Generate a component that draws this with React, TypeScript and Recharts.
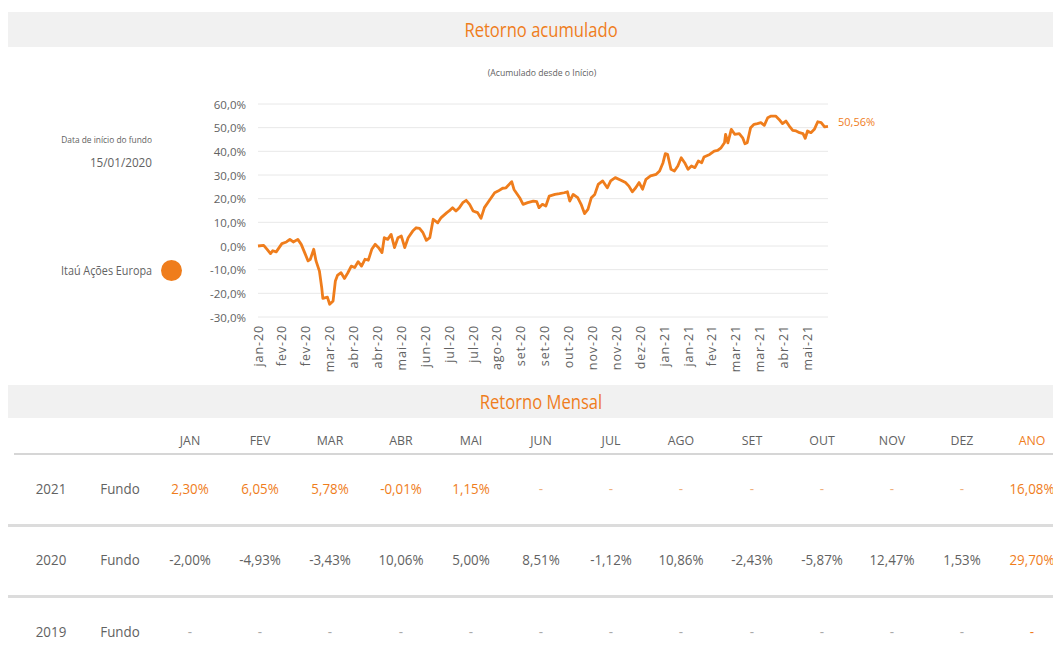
import React from 'react';
import { LineChart, Line, XAxis, YAxis, CartesianGrid } from 'recharts';

// ---- Data ----
// days since fund start (15/01/2020)
const dayOffsets = [
  0, 5, 8, 11, 13, 16, 21, 25, 28, 31, 35, 38, 41, 44, 46, 49, 51, 54, 56, 57,
  61, 63, 66, 68, 70, 73, 76, 79, 82, 85, 88, 91, 94, 97, 100, 103, 106, 109, 111, 114,
  117, 120, 123, 126, 129, 132, 136, 139, 142, 145, 148, 151, 154, 158, 161, 166, 168, 171, 174, 177,
  180, 183, 186, 189, 193, 196, 199, 203, 208, 211, 215, 218, 223, 225, 230, 233, 237, 242, 245, 247,
  250, 253, 256, 261, 265, 269, 272, 274, 277, 281, 284, 287, 290, 293, 296, 299, 303, 307, 310, 314,
  319, 323, 326, 329, 332, 335, 338, 341, 345, 350, 353, 356, 358, 360, 363, 366, 369, 372, 375, 378,
  381, 384, 387, 390, 392, 397, 401, 404, 407, 410, 411, 413, 416, 419, 423, 426, 428, 430, 433, 436,
  439, 442, 445, 448, 451, 455, 458, 461, 464, 467, 470, 473, 476, 479, 481, 483, 486, 489, 492, 495,
  498, 501,
];
// accumulated return (%)
const accumulatedReturn = [
  0.0, 0.3, -1.4, -3.2, -2.0, -2.5, 1.0, 1.7, 2.8, 1.7, 2.8, 0.7, -2.8, -6.3, -5.6, -1.4, -6.3, -10.6, -17.6, -22.1,
  -21.6, -24.6, -23.2, -14.8, -12.3, -11.3, -13.7, -11.3, -8.5, -9.1, -6.6, -8.5, -5.6, -6.0, -1.4, 0.7, -0.7, -2.8, 3.5, 2.8,
  4.9, -0.7, 3.5, 4.2, -0.7, 3.5, 6.3, 7.7, 7.4, 5.6, 2.4, 3.5, 11.3, 9.8, 12.0, 14.1, 14.8, 16.2, 14.8, 16.2,
  18.3, 19.3, 17.6, 14.8, 14.1, 11.7, 16.2, 19.0, 22.5, 23.2, 24.4, 24.6, 27.2, 23.9, 20.4, 17.6, 18.3, 19.0, 18.7, 16.2,
  17.6, 16.9, 21.1, 21.8, 22.1, 22.5, 22.9, 19.0, 21.8, 20.4, 17.6, 13.7, 15.5, 20.4, 21.8, 26.0, 27.5, 24.6, 27.5, 28.9,
  27.8, 26.8, 25.3, 22.9, 24.6, 26.8, 24.0, 28.2, 29.6, 30.3, 31.7, 35.2, 39.0, 38.7, 32.4, 31.7, 33.8, 37.3, 35.2, 32.4,
  33.8, 33.1, 35.9, 35.2, 37.6, 38.7, 40.1, 40.4, 41.5, 43.6, 47.2, 43.6, 49.3, 47.2, 47.5, 45.7, 43.2, 43.6, 50.0, 51.4,
  51.7, 52.1, 51.0, 54.2, 54.9, 54.9, 53.5, 51.7, 52.8, 50.7, 48.9, 48.6, 47.9, 47.5, 45.5, 48.6, 47.9, 49.3, 52.5, 52.1,
  50.3, 50.56,
];
const tickDays = [0, 21, 42, 63, 84, 105, 126, 147, 168, 189, 210, 231, 252, 273, 294, 315, 336, 357, 378, 399, 420, 441, 462, 483];
const tickLabels = [
  'jan-20', 'fev-20', 'fev-20', 'mar-20', 'abr-20', 'abr-20', 'mai-20', 'jun-20', 'jul-20', 'jul-20', 'ago-20', 'set-20',
  'set-20', 'out-20', 'nov-20', 'nov-20', 'dez-20', 'jan-21', 'jan-21', 'fev-21', 'mar-21', 'mar-21', 'abr-21', 'mai-21',
];
const yTicks = [-30, -20, -10, 0, 10, 20, 30, 40, 50, 60];
const lastLabel = '50,56%';

const monthHeaders = ['JAN', 'FEV', 'MAR', 'ABR', 'MAI', 'JUN', 'JUL', 'AGO', 'SET', 'OUT', 'NOV', 'DEZ', 'ANO'];
const years = ['2021', '2020', '2019'];
const rowLabel = 'Fundo';
const returns2021 = ['2,30%', '6,05%', '5,78%', '-0,01%', '1,15%', '-', '-', '-', '-', '-', '-', '-', '16,08%'];
const returns2020 = ['-2,00%', '-4,93%', '-3,43%', '10,06%', '5,00%', '8,51%', '-1,12%', '10,86%', '-2,43%', '-5,87%', '12,47%', '1,53%', '29,70%'];
const returns2019 = ['-', '-', '-', '-', '-', '-', '-', '-', '-', '-', '-', '-', '-'];

const chartData = dayOffsets.map((d, i) => ({ day: d, ret: accumulatedReturn[i] }));

const ORANGE = '#ef7d1c';
const GRAY = '#626262';
const BAND = '#f1f1f1';
const FONT = "'Open Sans', sans-serif";

const fmtPct = (v: number) => `${v.toFixed(1).replace('.', ',')}%`;

const XTick = (props: any) => {
  const { x, y, payload } = props;
  const i = tickDays.indexOf(payload.value);
  return (
    <text
      x={x}
      y={y}
      transform={`rotate(-90, ${x}, ${y})`}
      textAnchor="end"
      dominantBaseline="central"
      fill={GRAY}
      fontSize={12.5}
      fontFamily={FONT}
      letterSpacing={0.9}
    >
      {tickLabels[i]}
    </text>
  );
};

const YTick = (props: any) => {
  const { x, y, payload } = props;
  return (
    <text x={x} y={y} textAnchor="end" dominantBaseline="central" fill={GRAY} fontSize={11.5} fontFamily={FONT}>
      {fmtPct(payload.value)}
    </text>
  );
};

const LastLabel = (props: any) => {
  const { x, y, index } = props;
  if (index !== chartData.length - 1) return null;
  return (
    <text x={x + 10} y={y - 5} fill={ORANGE} fontSize={11} fontFamily={FONT} dominantBaseline="central">
      {lastLabel}
    </text>
  );
};

const colCenters = (i: number) => 182 + i * 70.2;
const narrow: React.CSSProperties = { transform: 'scaleX(0.89)' };

const TableRow = ({ top, year, values, valueColor, dashColor }: any) => (
  <>
    <div style={{ position: 'absolute', top, left: 43 - 40, width: 80, textAlign: 'center', fontSize: 15, color: GRAY, ...narrow }}>{year}</div>
    <div style={{ position: 'absolute', top, left: 112 - 40, width: 80, textAlign: 'center', fontSize: 15, color: GRAY, ...narrow }}>{rowLabel}</div>
    {values.map((v: string, i: number) => (
      <div
        key={i}
        style={{
          position: 'absolute',
          top,
          left: colCenters(i) - 35,
          width: 70,
          textAlign: 'center',
          fontSize: 15,
          color: i === 12 ? ORANGE : v === '-' ? dashColor : valueColor,
          ...narrow,
        }}
      >
        {v}
      </div>
    ))}
  </>
);

export default function App() {
  return (
    <div style={{ position: 'relative', width: 1053, height: 652, fontFamily: FONT, background: '#fff', overflow: 'hidden' }}>
      {/* Band 1 */}
      <div style={{ position: 'absolute', top: 4, left: 0, width: 1053, height: 35, background: BAND }} />
      <div style={{ position: 'absolute', top: 7, left: 533 - 150, width: 300, textAlign: 'center', fontSize: 20.5, color: ORANGE, transform: 'scaleX(0.81)' }}>
        Retorno acumulado
      </div>
      <div style={{ position: 'absolute', top: 58, left: 534 - 100, width: 200, textAlign: 'center', fontSize: 9, color: GRAY, transform: 'scaleX(0.96)' }}>
        (Acumulado desde o Início)
      </div>

      {/* Left legend */}
      <div style={{ position: 'absolute', top: 125, left: 0, width: 144, textAlign: 'right', fontSize: 9, color: GRAY, transform: 'scaleX(0.93)', transformOrigin: 'right center' }}>
        Data de início do fundo
      </div>
      <div style={{ position: 'absolute', top: 145, left: 0, width: 144, textAlign: 'right', fontSize: 13, color: GRAY, transform: 'scaleX(0.9)', transformOrigin: 'right center' }}>
        15/01/2020
      </div>
      <div style={{ position: 'absolute', top: 254, left: 0, width: 144, textAlign: 'right', fontSize: 12, color: GRAY, transform: 'scaleX(0.9)', transformOrigin: 'right center' }}>
        Itaú Ações Europa
      </div>
      <div style={{ position: 'absolute', top: 252, left: 153, width: 21, height: 21, borderRadius: 11, background: ORANGE }} />

      {/* Chart */}
      <div style={{ position: 'absolute', top: 0, left: 0 }}>
        <LineChart width={900} height={374} data={chartData} margin={{ top: 96, right: 80, bottom: 5, left: 190 }}>
          <CartesianGrid horizontal vertical={false} stroke="#e8e8e8" />
          <XAxis
            type="number"
            dataKey="day"
            domain={[0, 501]}
            ticks={tickDays}
            interval={0}
            axisLine={false}
            tickLine={false}
            height={60}
            tick={<XTick />}
          />
          <YAxis
            domain={[-30, 60]}
            ticks={yTicks}
            interval={0}
            axisLine={false}
            tickLine={false}
            width={60}
            tickMargin={6}
            tick={<YTick />}
          />
          <Line
            type="linear"
            dataKey="ret"
            stroke={ORANGE}
            strokeWidth={2.8}
            strokeLinejoin="round"
            dot={false}
            isAnimationActive={false}
            label={<LastLabel />}
          />
        </LineChart>
      </div>

      {/* Band 2 */}
      <div style={{ position: 'absolute', top: 377, left: 0, width: 1053, height: 33, background: BAND }} />
      <div style={{ position: 'absolute', top: 379, left: 533 - 150, width: 300, textAlign: 'center', fontSize: 20.5, color: ORANGE, transform: 'scaleX(0.81)' }}>
        Retorno Mensal
      </div>

      {/* Table header */}
      {monthHeaders.map((m, i) => (
        <div
          key={m}
          style={{
            position: 'absolute',
            top: 423,
            left: colCenters(i) - 35,
            width: 70,
            textAlign: 'center',
            fontSize: 13,
            color: i === 12 ? ORANGE : GRAY,
            transform: 'scaleX(0.95)',
          }}
        >
          {m}
        </div>
      ))}
      <div style={{ position: 'absolute', top: 445, left: 6, width: 1047, height: 2, background: '#d6d6d6' }} />
      <TableRow top={470} year={years[0]} values={returns2021} valueColor={ORANGE} dashColor="#f0b07a" />
      <div style={{ position: 'absolute', top: 516, left: 0, width: 1053, height: 3, background: '#dcdcdc' }} />
      <TableRow top={541} year={years[1]} values={returns2020} valueColor={GRAY} dashColor="#aaaaaa" />
      <div style={{ position: 'absolute', top: 587, left: 0, width: 1053, height: 3, background: '#dcdcdc' }} />
      <TableRow top={613} year={years[2]} values={returns2019} valueColor={GRAY} dashColor="#aaaaaa" />
    </div>
  );
}
